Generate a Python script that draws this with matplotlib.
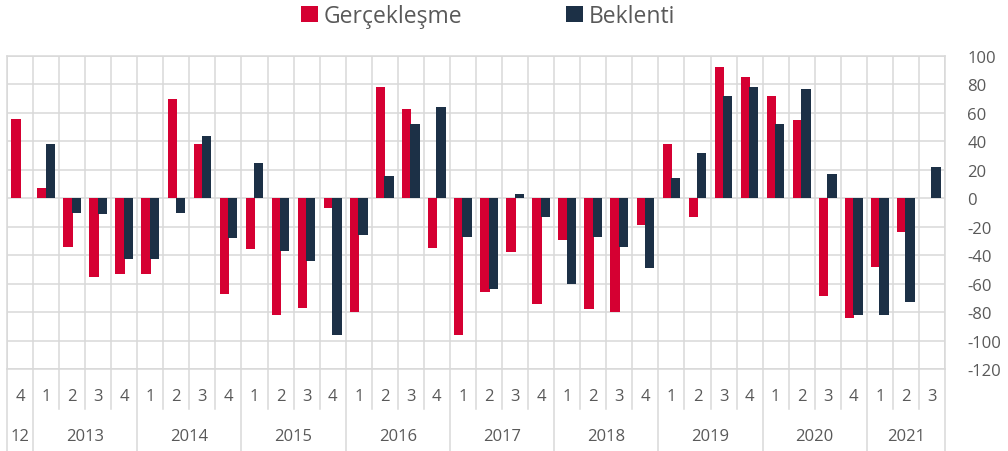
import numpy as np
import matplotlib
matplotlib.use('Agg')
import matplotlib.pyplot as plt

plt.rcParams['font.family'] = ['Open Sans', 'DejaVu Sans']
plt.rcParams['axes.unicode_minus'] = False

# data
years = ['12', '2013', '2014', '2015', '2016', '2017', '2018', '2019', '2020', '2021']
quarters = [4] + [1, 2, 3, 4] * 8 + [1, 2, 3]
gerceklesme = [56, 7, -34, -55, -53, -53, 70, 38, -67, -36, -82, -77, -7,
               -80, 78, 63, -35, -96, -66, -38, -74, -29, -78, -80, -19,
               38, -13, 92, 85, 72, 55, -69, -84, -48, -24, np.nan]
beklenti = [np.nan, 38, -10, -11, -43, -43, -10, 44, -28, 25, -37, -44, -96,
            -26, 16, 52, 64, -27, -64, 3, -13, -60, -27, -34, -49,
            14, 32, 72, 78, 52, 77, 17, -82, -82, -73, 22]

red = '#D50032'
navy = '#1C3046'
grid_c = '#D9D9D9'
text_c = '#595959'

x = np.arange(len(quarters))

fig = plt.figure(figsize=(10.08, 4.52), dpi=100)
ax = fig.add_axes([7/1008, 82/452, 938/1008, 313/452])

b1 = ax.bar(x - 0.16, gerceklesme, 0.36, color=red, label='Gerçekleşme', zorder=3)
b2 = ax.bar(x + 0.16, beklenti, 0.36, color=navy, label='Beklenti', zorder=3)

ax.set_xlim(-0.5, len(quarters) - 0.5)
ax.set_ylim(-120, 100)
ax.set_yticks(range(-120, 101, 20))
ax.yaxis.tick_right()
ax.tick_params(axis='y', length=0, pad=16, labelsize=12, labelcolor=text_c)

# vertical grid at category borders
ax.set_xticks([])
ax.set_xticks(np.arange(-0.5, len(quarters), 1), minor=True)
ax.tick_params(axis='x', which='both', length=0, labelbottom=False)
ax.grid(axis='y', color=grid_c, lw=1.1, zorder=0)
ax.grid(axis='x', which='minor', color=grid_c, lw=1.1, zorder=0)
for s in ax.spines.values():
    s.set_color(grid_c)
    s.set_linewidth(1.1)

# two-level category axis
tr = ax.get_xaxis_transform()
year_starts = [0] + [i for i, q in enumerate(quarters) if q == 1]
year_bounds = [s - 0.5 for s in year_starts] + [len(quarters) - 0.5]
for b in np.arange(-0.5, len(quarters), 1):
    y_end = -0.262 if b in year_bounds else -0.128
    ax.plot([b, b], [0, y_end], color=grid_c, lw=1.1, transform=tr, clip_on=False)

for i, q in enumerate(quarters):
    ax.text(i, -0.086, str(q), ha='center', va='center', fontsize=12,
            color=text_c, transform=tr)

for k, yr in enumerate(years):
    mid = (year_bounds[k] + year_bounds[k + 1]) / 2
    ax.text(mid, -0.214, yr, ha='center', va='center', fontsize=12,
            color=text_c, transform=tr)

fig.legend(handles=[b1, b2], loc='center', bbox_to_anchor=(488/1008, 1 - 17/452),
           ncol=2, frameon=False, fontsize=16.5, labelcolor=text_c,
           handlelength=0.75, handleheight=0.75, handletextpad=0.25,
           columnspacing=4.5)

fig.savefig('out.png', dpi=100)
